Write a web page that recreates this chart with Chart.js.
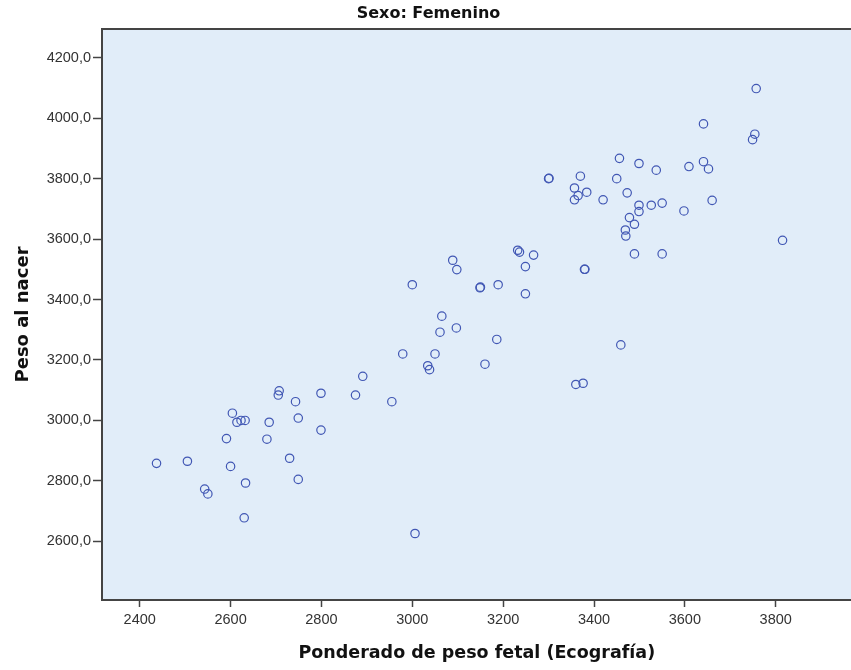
<!DOCTYPE html>
<html>
<head>
<meta charset="utf-8">
<script src="https://cdn.jsdelivr.net/npm/chart.js@4/dist/chart.umd.min.js"></script>
<style>
    html, body { margin: 0; padding: 0; background: #ffffff; overflow: hidden; }
    #wrap { width: 851px; height: 670px; overflow: hidden; }
</style>
</head>
<body>
<div id="wrap"><canvas id="scatter" width="857" height="670"></canvas></div>
<script>
// Ponderado de peso fetal (Ecografía)
const ecografia = [
    2437, 2505, 2543, 2550, 2591, 2604, 2614, 2623, 2632, 2600,
    2633, 2630, 2685, 2680, 2707, 2705, 2743, 2749, 2730, 2749,
    2799, 2799, 2891, 2875, 2955, 2979, 3006, 3061, 3065, 3097,
    3050, 3034, 3038, 3000, 3089, 3098, 3149, 3150, 3189, 3232,
    3236, 3267, 3249, 3249, 3186, 3160, 3360, 3376, 3300, 3301,
    3370, 3357, 3365, 3357, 3384, 3420, 3456, 3450, 3499, 3537,
    3473, 3499, 3499, 3526, 3550, 3478, 3489, 3469, 3470, 3489,
    3550, 3757, 3641, 3754, 3749, 3641, 3652, 3609, 3660, 3598,
    3815, 3459, 3379, 3380
];
// Peso al nacer
const pesoNacer = [
    2858, 2865, 2773, 2757, 2940, 3024, 2994, 3000, 3000, 2848,
    2793, 2678, 2994, 2938, 3098, 3084, 3062, 3008, 2875, 2805,
    3090, 2968, 3146, 3084, 3062, 3220, 2626, 3292, 3345, 3306,
    3220, 3181, 3168, 3449, 3530, 3499, 3439, 3441, 3449, 3563,
    3557, 3547, 3509, 3419, 3268, 3186, 3119, 3123, 3800, 3801,
    3808, 3769, 3744, 3730, 3755, 3730, 3867, 3800, 3850, 3828,
    3753, 3712, 3691, 3712, 3719, 3671, 3649, 3630, 3610, 3551,
    3551, 4098, 3981, 3947, 3929, 3856, 3832, 3840, 3728, 3693,
    3596, 3250, 3500, 3500
];
const xTicks = [2400, 2600, 2800, 3000, 3200, 3400, 3600, 3800];
const yTicks = [2600, 2800, 3000, 3200, 3400, 3600, 3800, 4000, 4200];

const points = ecografia.map((x, i) => ({ x: x, y: pesoNacer[i] }));

// fondo azul claro + borde superior del área de gráfico
const plotBackground = {
    id: "plotBackground",
    beforeDraw(chart) {
        const { ctx, chartArea } = chart;
        ctx.save();
        ctx.fillStyle = "#e1edf9";
        ctx.fillRect(chartArea.left, chartArea.top, chartArea.right - chartArea.left, chartArea.bottom - chartArea.top);
        ctx.strokeStyle = "#444444";
        ctx.lineWidth = 2;
        ctx.beginPath();
        ctx.moveTo(chartArea.left, chartArea.top);
        ctx.lineTo(chartArea.right + 10, chartArea.top);
        ctx.stroke();
        ctx.restore();
    },
};

const tickFont = { family: "'Liberation Sans', Arial, sans-serif", size: 14.5 };
const dejavu = "'DejaVu Sans', Verdana, sans-serif";

new Chart(document.getElementById("scatter"), {
    type: "scatter",
    data: {
        datasets: [
            {
                label: "Femenino",
                data: points,
                pointStyle: "circle",
                pointRadius: 4.2,
                pointHoverRadius: 4.2,
                borderWidth: 1.2,
                borderColor: "#4157b4",
                backgroundColor: "rgba(0,0,0,0)",
            },
        ],
    },
    options: {
        responsive: false,
        animation: false,
        layout: { padding: 0 },
        plugins: {
            legend: { display: false },
            tooltip: { enabled: false },
            title: {
                display: true,
                text: "Sexo: Femenino",
                color: "#111111",
                font: { family: dejavu, size: 16, weight: "bold" },
                padding: { top: 4, bottom: 5.8 },
            },
        },
        scales: {
            x: {
                type: "linear",
                position: "bottom",
                min: 2317,
                max: 3967,
                afterBuildTicks: (scale) => {
                    scale.ticks = xTicks.map((v) => ({ value: v }));
                },
                afterFit: (scale) => {
                    scale.height = 70;
                },
                grid: { drawOnChartArea: false, drawTicks: true, tickLength: 7, color: "#444444", tickWidth: 1.5 },
                border: { display: true, color: "#444444", width: 2 },
                ticks: {
                    color: "#333333",
                    font: tickFont,
                    padding: 4,
                    maxRotation: 0,
                    callback: (v) => String(v),
                },
                title: {
                    display: true,
                    text: "Ponderado de peso fetal (Ecografía)",
                    color: "#111111",
                    font: { family: dejavu, size: 17.5, weight: "bold" },
                    padding: { top: 0, bottom: 6 },
                },
            },
            y: {
                type: "linear",
                position: "left",
                min: 2406,
                max: 4295,
                afterBuildTicks: (scale) => {
                    scale.ticks = yTicks.map((v) => ({ value: v }));
                },
                afterFit: (scale) => {
                    scale.width = 102;
                },
                grid: { drawOnChartArea: false, drawTicks: true, tickLength: 9, color: "#444444", tickWidth: 1.5 },
                border: { display: true, color: "#444444", width: 2 },
                ticks: {
                    color: "#333333",
                    font: tickFont,
                    padding: 2,
                    callback: (v) => v.toFixed(1).replace(".", ","),
                },
                title: {
                    display: true,
                    text: "Peso al nacer",
                    color: "#111111",
                    font: { family: dejavu, size: 18, weight: "bold" },
                    padding: { top: 13, bottom: 0 },
                },
            },
        },
    },
    plugins: [plotBackground],
});
</script>
</body>
</html>
